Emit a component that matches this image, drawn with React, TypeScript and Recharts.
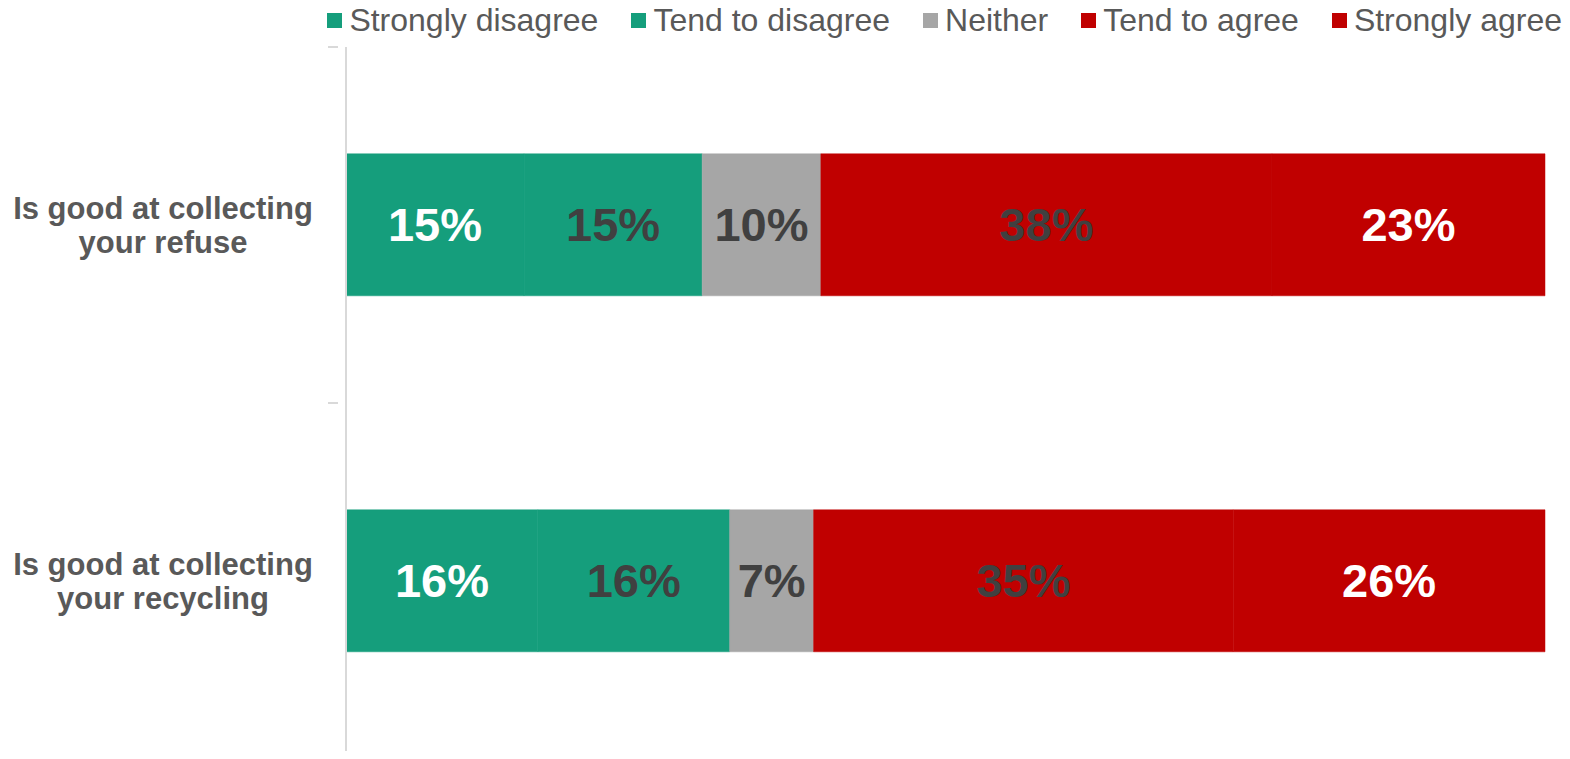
import React from 'react'
import { BarChart, Bar, XAxis, YAxis, Legend, LabelList } from 'recharts'

const questions = ['Is good at collecting your refuse', 'Is good at collecting your recycling']
const questionLines = [
  ['Is good at collecting', 'your refuse'],
  ['Is good at collecting', 'your recycling'],
]
const stronglyDisagree = [15, 16]
const tendToDisagree = [15, 16]
const neither = [10, 7]
const tendToAgree = [38, 35]
const stronglyAgree = [23, 26]

const SERIES = [
  { key: 'stronglyDisagree', name: 'Strongly disagree', color: '#159e7c', label: '#ffffff' },
  { key: 'tendToDisagree', name: 'Tend to disagree', color: '#159e7c', label: '#404040' },
  { key: 'neither', name: 'Neither', color: '#a6a6a6', label: '#404040' },
  { key: 'tendToAgree', name: 'Tend to agree', color: '#c00000', label: '#404040' },
  { key: 'stronglyAgree', name: 'Strongly agree', color: '#c00000', label: '#ffffff' },
]

const data = questions.map((q, i) => ({
  question: q,
  stronglyDisagree: stronglyDisagree[i],
  tendToDisagree: tendToDisagree[i],
  neither: neither[i],
  tendToAgree: tendToAgree[i],
  stronglyAgree: stronglyAgree[i],
}))

const FONT = '"Liberation Sans", Arial, sans-serif'

const CategoryTick = (props: any) => {
  const { x, y, payload, index } = props
  const half = payload?.offset ?? 178
  const lines = questionLines[index] || [payload.value]
  return (
    <g>
      <line x1={x - 10} x2={x} y1={y - half} y2={y - half} stroke="#d9d9d9" strokeWidth={2} />
      <line x1={x - 10} x2={x} y1={y + half} y2={y + half} stroke="#d9d9d9" strokeWidth={2} />
      {lines.map((line: string, i: number) => (
        <text
          key={i}
          x={163}
          y={y + (i - (lines.length - 1) / 2) * 34}
          textAnchor="middle"
          dominantBaseline="central"
          fontFamily={FONT}
          fontWeight="bold"
          fontSize={31}
          fill="#595959"
        >
          {line}
        </text>
      ))}
    </g>
  )
}

const makeLabel = (color: string) => (props: any) => {
  const { x, y, width, height, value } = props
  return (
    <text
      x={x + width / 2}
      y={y + height / 2}
      textAnchor="middle"
      dominantBaseline="central"
      fontFamily={FONT}
      fontWeight="bold"
      fontSize={47}
      fill={color}
    >
      {value}%
    </text>
  )
}

const renderLegend = () => (
  <div
    style={{
      display: 'flex',
      justifyContent: 'flex-end',
      alignItems: 'center',
      gap: 33,
      paddingRight: 8,
      fontFamily: FONT,
      fontSize: 32,
      color: '#595959',
      height: 40,
      paddingBottom: 7,
      whiteSpace: 'nowrap',
    }}
  >
    {SERIES.map((s) => (
      <div key={s.key} style={{ display: 'flex', alignItems: 'center', flexShrink: 0 }}>
        <span style={{ width: 15, height: 15, background: s.color, marginRight: 7, display: 'inline-block' }} />
        <span>{s.name}</span>
      </div>
    ))}
  </div>
)

export default function App() {
  return (
    <div style={{ margin: -8, width: 1570, height: 759, background: '#fff' }}>
      <BarChart
        width={1570}
        height={759}
        data={data}
        layout="vertical"
        stackOffset="expand"
        barCategoryGap="30%"
        margin={{ top: 0, right: 25, bottom: 0, left: 0 }}
      >
        <XAxis type="number" hide domain={[0, 1]} />
        <YAxis
          type="category"
          dataKey="question"
          width={346}
          axisLine={{ stroke: '#d9d9d9', strokeWidth: 2 }}
          tickLine={false}
          tick={<CategoryTick />}
          interval={0}
        />
        <Legend
          verticalAlign="top"
          align="right"
          content={renderLegend}
          wrapperStyle={{ top: 0, left: 0, width: 1570 }}
        />
        {SERIES.map((s) => (
          <Bar
            key={s.key}
            dataKey={s.key}
            name={s.name}
            stackId="a"
            fill={s.color}
            stroke={s.color}
            strokeWidth={0.5}
            isAnimationActive={false}
          >
            <LabelList dataKey={s.key} content={makeLabel(s.label)} />
          </Bar>
        ))}
      </BarChart>
    </div>
  )
}
